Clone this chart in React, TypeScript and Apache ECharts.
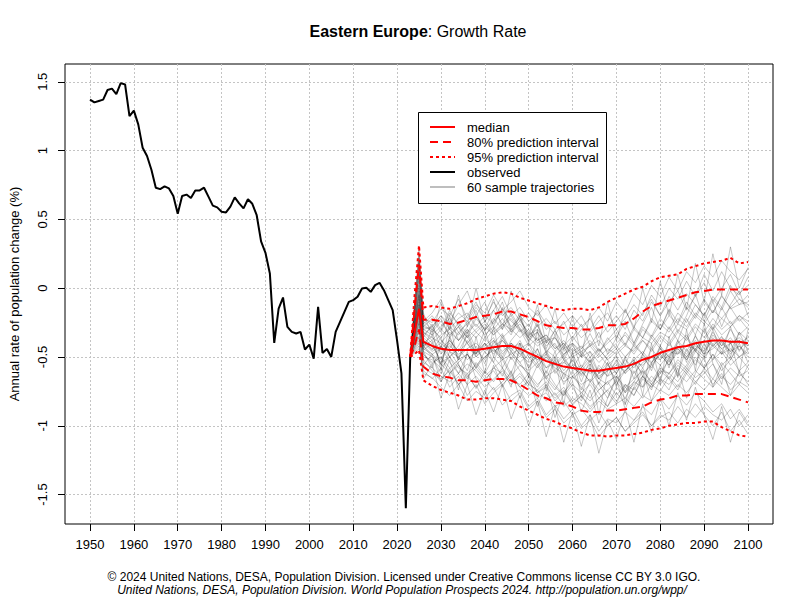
import React, { useEffect, useRef } from 'react';
import * as echarts from 'echarts';

// Observed annual growth rate (%), 1950..2023
const OBS_START_YEAR = 1950;
const OBSERVED = [
  1.37, 1.35, 1.36, 1.37, 1.44, 1.45, 1.41, 1.49, 1.48, 1.25,
  1.29, 1.19, 1.02, 0.96, 0.86, 0.73, 0.72, 0.74, 0.725, 0.67,
  0.54, 0.67, 0.68, 0.655, 0.71, 0.71, 0.73, 0.665, 0.6, 0.587,
  0.555, 0.55, 0.592, 0.66, 0.616, 0.58, 0.646, 0.613, 0.53, 0.34,
  0.257, 0.107, -0.398, -0.148, -0.068, -0.282, -0.318, -0.33, -0.318, -0.446,
  -0.41, -0.512, -0.136, -0.471, -0.442, -0.5, -0.318, -0.245, -0.172, -0.1,
  -0.087, -0.063, -0.002, 0.003, -0.027, 0.022, 0.039, -0.015, -0.087, -0.16,
  -0.38, -0.62, -1.6, -0.5,
];

const PROJ_YEARS = [
  2023, 2024, 2025, 2026, 2028, 2030, 2032, 2034, 2036, 2038, 2040,
  2042, 2044, 2046, 2048, 2050, 2052, 2054, 2056, 2058, 2060,
  2062, 2064, 2066, 2068, 2070, 2072, 2074, 2076, 2078, 2080,
  2082, 2084, 2086, 2088, 2090, 2092, 2094, 2096, 2098, 2100,
];
const MEDIAN = [
  -0.5, -0.32, -0.15, -0.39, -0.42, -0.44, -0.45, -0.45, -0.45, -0.45, -0.44,
  -0.43, -0.42, -0.42, -0.44, -0.47, -0.5, -0.53, -0.55, -0.57, -0.58,
  -0.59, -0.6, -0.6, -0.59, -0.58, -0.57, -0.55, -0.52, -0.5, -0.47,
  -0.45, -0.43, -0.42, -0.4, -0.39, -0.38, -0.38, -0.39, -0.39, -0.4,
];
const PI80_UPPER = [
  -0.5, -0.15, 0.17, -0.23, -0.23, -0.24, -0.26, -0.25, -0.23, -0.21, -0.2,
  -0.19, -0.17, -0.17, -0.19, -0.21, -0.24, -0.27, -0.28, -0.29, -0.29,
  -0.3, -0.3, -0.29, -0.27, -0.27, -0.26, -0.22, -0.17, -0.13, -0.11,
  -0.09, -0.07, -0.05, -0.03, -0.02, -0.01, -0.01, -0.01, -0.01, -0.01,
];
const PI80_LOWER = [
  -0.5, -0.42, -0.3, -0.57, -0.62, -0.64, -0.65, -0.67, -0.67, -0.68, -0.67,
  -0.66, -0.66, -0.67, -0.7, -0.74, -0.78, -0.8, -0.83, -0.84, -0.86,
  -0.89, -0.9, -0.9, -0.89, -0.89, -0.88, -0.87, -0.86, -0.83, -0.81,
  -0.8, -0.78, -0.78, -0.77, -0.77, -0.77, -0.77, -0.79, -0.81, -0.83,
];
const PI95_UPPER = [
  -0.5, -0.05, 0.31, -0.14, -0.13, -0.14, -0.15, -0.13, -0.11, -0.08, -0.06,
  -0.04, -0.03, -0.04, -0.07, -0.09, -0.11, -0.13, -0.15, -0.16, -0.15,
  -0.15, -0.16, -0.14, -0.1, -0.07, -0.04, -0.01, 0.01, 0.05, 0.08,
  0.09, 0.1, 0.14, 0.16, 0.18, 0.19, 0.2, 0.22, 0.18, 0.19,
];
const PI95_LOWER = [
  -0.5, -0.48, -0.45, -0.67, -0.71, -0.74, -0.76, -0.78, -0.81, -0.81, -0.8,
  -0.8, -0.81, -0.82, -0.86, -0.89, -0.92, -0.95, -0.97, -1.0, -1.02,
  -1.05, -1.07, -1.07, -1.08, -1.07, -1.07, -1.06, -1.05, -1.03, -1.02,
  -1.0, -0.99, -0.98, -0.98, -0.97, -0.97, -1.01, -1.04, -1.07, -1.08,
];

// Sample trajectories (values in hundredths of a percent)
const TRAJ_YEARS = [
  2023, 2025, 2026, 2028, 2030, 2032, 2034, 2036, 2038, 2040,
  2042, 2044, 2046, 2048, 2050, 2052, 2054, 2056, 2058, 2060,
  2062, 2064, 2066, 2068, 2070, 2072, 2074, 2076, 2078, 2080,
  2082, 2084, 2086, 2088, 2090, 2092, 2094, 2096, 2098, 2100,
];
const TRAJECTORIES = [
  [-50, 5, -28, -30, -22, -35, -25, -33, -20, -31, -22, -30, -18, -29, -35, -27, -40, -31, -42, -35, -44, -33, -46, -38, -30, -41, -28, -36, -22, -30, -15, -25, -10, -20, -8, -18, -5, -15, -12, -10],
  [-50, -30, -52, -60, -68, -58, -70, -62, -73, -60, -68, -58, -66, -70, -62, -76, -70, -82, -75, -85, -78, -88, -80, -86, -76, -84, -72, -80, -70, -75, -64, -72, -60, -68, -62, -55, -66, -58, -64, -60],
  [-50, -12, -40, -35, -48, -40, -52, -38, -47, -42, -36, -48, -40, -45, -52, -44, -58, -50, -60, -52, -63, -55, -66, -56, -62, -52, -58, -48, -55, -42, -50, -38, -46, -35, -44, -32, -42, -36, -45, -38],
  [-50, -25, -48, -55, -50, -62, -54, -48, -58, -50, -45, -52, -40, -48, -44, -52, -46, -55, -48, -42, -50, -40, -48, -36, -44, -32, -40, -28, -35, -22, -30, -18, -25, -12, -20, -8, -16, -2, -12, -5],
  [-50, 15, -30, -28, -20, -30, -22, -18, -28, -20, -26, -15, -24, -30, -38, -32, -45, -50, -42, -55, -60, -52, -66, -70, -62, -75, -68, -72, -64, -70, -62, -68, -58, -65, -60, -70, -62, -74, -68, -72],
  [-50, -40, -62, -65, -72, -78, -70, -82, -75, -80, -72, -85, -78, -74, -86, -80, -92, -85, -95, -88, -100, -92, -104, -95, -98, -90, -96, -86, -92, -80, -88, -78, -85, -76, -82, -90, -84, -95, -88, -98],
  [-50, -5, -38, -45, -36, -50, -42, -30, -44, -52, -40, -33, -46, -38, -50, -58, -48, -62, -54, -48, -60, -68, -56, -64, -52, -62, -50, -58, -44, -52, -40, -48, -36, -46, -30, -42, -35, -48, -38, -44],
  [-50, 20, -22, -25, -15, -20, -8, -22, -12, -18, -5, -16, -10, -2, -14, -20, -12, -26, -18, -28, -20, -32, -24, -18, -30, -22, -12, -20, -5, -14, 0, -8, 5, -6, 10, -2, 12, 0, -5, 8],
  [-50, -35, -50, -52, -58, -50, -62, -55, -60, -68, -58, -52, -64, -56, -62, -70, -64, -72, -78, -70, -76, -82, -74, -68, -78, -70, -74, -64, -70, -60, -66, -56, -62, -52, -58, -48, -56, -50, -60, -54],
  [-50, -8, -32, -38, -30, -36, -28, -40, -32, -26, -34, -28, -22, -32, -26, -38, -34, -44, -38, -46, -42, -50, -44, -52, -46, -40, -48, -38, -44, -34, -40, -30, -36, -26, -32, -22, -30, -24, -34, -28],
  [-50, -18, -45, -40, -55, -35, -50, -60, -42, -55, -38, -50, -62, -45, -58, -48, -66, -52, -70, -60, -74, -58, -70, -80, -64, -76, -60, -72, -55, -66, -50, -62, -44, -56, -40, -52, -38, -50, -32, -46],
  [-50, -30, -46, -50, -55, -62, -56, -64, -58, -66, -60, -70, -64, -72, -68, -76, -72, -80, -74, -84, -78, -86, -80, -74, -82, -72, -78, -66, -72, -60, -62, -52, -58, -46, -52, -40, -48, -44, -50, -46],
  [-50, 8, -30, -34, -28, -22, -32, -26, -20, -30, -24, -18, -28, -22, -34, -30, -38, -36, -44, -40, -46, -42, -50, -44, -48, -42, -46, -36, -40, -32, -36, -26, -30, -20, -26, -16, -22, -14, -24, -18],
  [-50, -20, -40, -44, -40, -46, -50, -44, -48, -40, -46, -42, -48, -44, -40, -48, -52, -56, -50, -60, -56, -62, -58, -64, -60, -56, -62, -54, -50, -56, -48, -44, -50, -42, -46, -38, -44, -40, -36, -42],
  [-50, -42, -58, -62, -66, -60, -70, -64, -72, -66, -74, -68, -62, -72, -78, -74, -82, -76, -86, -80, -84, -90, -82, -88, -84, -80, -86, -78, -82, -74, -78, -70, -76, -68, -74, -66, -72, -78, -70, -76],
  [-50, 28, -20, -28, -20, -26, -18, -24, -14, -22, -10, -20, -14, -24, -18, -28, -22, -30, -26, -20, -28, -22, -14, -24, -10, -18, -4, -12, 2, -6, 8, -2, 12, 4, 16, 8, 20, 12, 6, 14],
  [-50, -10, -36, -42, -52, -38, -46, -34, -50, -40, -54, -36, -44, -50, -40, -54, -46, -60, -52, -64, -58, -50, -62, -54, -70, -60, -52, -64, -54, -48, -56, -44, -52, -40, -48, -36, -44, -52, -42, -50],
  [-50, -22, -44, -48, -54, -50, -58, -62, -56, -64, -58, -62, -70, -64, -72, -80, -76, -86, -82, -92, -88, -96, -90, -100, -94, -104, -98, -92, -100, -94, -90, -98, -88, -94, -86, -92, -96, -88, -100, -92],
  [-50, 0, -26, -32, -24, -34, -28, -36, -30, -24, -32, -26, -20, -30, -36, -42, -38, -46, -40, -50, -46, -54, -48, -56, -50, -58, -52, -46, -54, -44, -50, -42, -48, -38, -46, -34, -42, -30, -40, -36],
  [-50, -15, -40, -46, -42, -50, -44, -52, -46, -40, -48, -38, -46, -54, -48, -56, -50, -58, -62, -56, -64, -58, -66, -60, -54, -62, -56, -50, -58, -46, -54, -42, -50, -40, -48, -44, -38, -46, -42, -48],
  [-50, -28, -48, -54, -50, -58, -52, -48, -56, -50, -44, -52, -48, -56, -60, -54, -64, -60, -68, -64, -70, -66, -74, -68, -64, -72, -66, -60, -68, -58, -62, -54, -60, -50, -58, -52, -46, -56, -50, -58],
  [-50, 12, -24, -30, -36, -28, -34, -24, -32, -38, -30, -22, -32, -26, -36, -32, -42, -36, -46, -40, -48, -42, -38, -46, -40, -34, -42, -30, -36, -26, -32, -22, -28, -18, -24, -30, -22, -28, -20, -26],
  [-50, -20, -42, -38, -56, -36, -52, -32, -48, -30, -50, -34, -52, -40, -58, -44, -62, -46, -66, -50, -68, -52, -70, -54, -72, -50, -66, -48, -60, -42, -58, -38, -54, -34, -50, -30, -48, -28, -46, -34],
  [-50, -36, -54, -58, -64, -68, -62, -70, -64, -72, -66, -60, -68, -62, -70, -74, -68, -78, -72, -82, -76, -70, -80, -74, -68, -76, -70, -64, -72, -66, -70, -62, -68, -60, -66, -72, -64, -70, -62, -68],
  [-50, -6, -34, -40, -34, -30, -38, -32, -26, -34, -28, -36, -30, -24, -32, -38, -34, -42, -48, -44, -50, -46, -54, -48, -42, -50, -44, -38, -46, -36, -42, -32, -38, -28, -36, -26, -34, -28, -22, -30],
  [-50, -14, -38, -42, -46, -42, -48, -44, -40, -46, -42, -38, -44, -40, -48, -52, -48, -56, -54, -58, -62, -58, -64, -60, -56, -60, -54, -56, -50, -52, -46, -48, -42, -44, -38, -42, -36, -40, -38, -42],
  [-50, 22, -26, -20, -30, -16, -28, -20, -10, -24, -16, -6, -20, -14, -24, -18, -30, -24, -34, -28, -36, -30, -20, -32, -24, -16, -28, -18, -8, -20, -10, -2, -16, -6, 4, -10, 0, 10, -4, 2],
  [-50, -44, -60, -66, -58, -72, -64, -78, -70, -84, -76, -70, -82, -76, -88, -82, -94, -88, -98, -92, -102, -96, -108, -100, -94, -104, -96, -90, -100, -92, -96, -86, -94, -84, -92, -100, -90, -104, -96, -106],
  [-50, -24, -42, -48, -44, -38, -46, -40, -50, -44, -38, -46, -40, -48, -54, -50, -58, -54, -62, -66, -60, -68, -62, -58, -66, -60, -54, -62, -56, -48, -56, -46, -52, -44, -50, -42, -48, -40, -50, -44],
  [-50, -2, -32, -36, -40, -32, -38, -30, -36, -28, -34, -26, -30, -36, -30, -40, -36, -44, -40, -48, -44, -38, -46, -40, -34, -42, -30, -36, -24, -30, -20, -26, -14, -22, -10, -18, -6, -14, -8, -12],
  [-50, 25, -18, -35, -10, -30, -5, -28, 0, -25, -8, -30, -2, -22, -35, -12, -40, -15, -45, -20, -50, -18, -42, -10, -38, -15, -30, 0, -25, 5, -20, 10, -15, 18, -10, 25, -5, 30, 0, 15],
  [-50, -38, -66, -55, -80, -62, -88, -70, -92, -74, -90, -70, -95, -78, -100, -82, -108, -86, -112, -90, -115, -92, -120, -96, -110, -88, -112, -84, -105, -80, -100, -76, -96, -72, -92, -110, -86, -112, -90, -100],
  [-50, -16, -44, -30, -60, -25, -55, -70, -35, -62, -28, -58, -72, -40, -65, -30, -75, -50, -85, -45, -80, -55, -92, -60, -48, -85, -52, -78, -40, -70, -35, -65, -30, -60, -25, -55, -70, -38, -62, -30],
  [-50, 18, -24, -18, -8, -25, -12, -2, -20, -10, -28, -14, -32, -20, -40, -26, -48, -34, -52, -40, -58, -46, -62, -50, -44, -56, -40, -48, -34, -42, -28, -38, -22, -34, -18, -30, -14, -26, -20, -24],
  [-50, -32, -56, -48, -68, -52, -74, -46, -66, -78, -56, -72, -60, -80, -64, -86, -70, -94, -76, -68, -90, -74, -98, -80, -66, -88, -72, -60, -82, -66, -74, -58, -80, -62, -50, -72, -56, -78, -60, -70],
  [-50, -4, -36, -26, -44, -20, -38, -28, -16, -36, -24, -10, -30, -18, -38, -24, -44, -30, -50, -36, -26, -42, -32, -48, -36, -24, -40, -26, -14, -30, -16, -32, -20, -4, -24, -10, -28, -12, -2, -20],
  [-50, -26, -46, -58, -42, -54, -62, -48, -58, -46, -54, -64, -50, -60, -70, -56, -66, -74, -62, -72, -82, -68, -76, -86, -72, -80, -68, -58, -70, -62, -52, -64, -56, -44, -58, -48, -60, -52, -40, -54],
  [-50, 2, -34, -28, -38, -44, -32, -40, -48, -36, -44, -50, -38, -30, -42, -36, -46, -40, -52, -58, -48, -54, -44, -52, -62, -50, -42, -48, -36, -44, -52, -40, -34, -46, -38, -28, -40, -46, -32, -38],
  [-50, -12, -42, -50, -62, -46, -56, -66, -54, -62, -50, -58, -46, -54, -64, -72, -60, -70, -78, -64, -72, -80, -68, -76, -84, -70, -78, -64, -74, -56, -66, -74, -62, -70, -58, -66, -54, -62, -70, -56],
  [-50, 10, -28, -22, -32, -18, -26, -36, -22, -30, -16, -26, -34, -20, -28, -16, -26, -34, -24, -38, -30, -22, -36, -28, -20, -30, -16, -24, -10, -20, -6, -16, -4, -12, -20, -6, -14, 2, -8, -14],
];

const X_TICKS = [1950, 1960, 1970, 1980, 1990, 2000, 2010, 2020, 2030, 2040, 2050, 2060, 2070, 2080, 2090, 2100];
const Y_TICKS = [-1.5, -1, -0.5, 0, 0.5, 1, 1.5];

const FONT = '"Liberation Sans", Arial, Helvetica, sans-serif';
const RED = '#FF0000';

function pairs(xs: number[], ys: number[], scale = 1) {
  const n = Math.min(xs.length, ys.length);
  const out: number[][] = [];
  for (let i = 0; i < n; i++) out.push([xs[i], ys[i] / scale]);
  return out;
}

function buildOption() {
  const obsData = OBSERVED.map((v, i) => [OBS_START_YEAR + i, v]);
  const trajSeries = TRAJECTORIES.map((t, i) => ({
    type: 'line',
    name: 'trajectory ' + (i + 1),
    data: pairs(TRAJ_YEARS, t, 100),
    showSymbol: false,
    symbol: 'none',
    silent: true,
    z: 2,
    lineStyle: { color: 'rgba(0,0,0,0.22)', width: 1 },
  }));
  const band = (name: string, vals: number[], dash: any) => ({
    type: 'line',
    name,
    data: pairs(PROJ_YEARS, vals),
    showSymbol: false,
    symbol: 'none',
    silent: true,
    z: 3,
    lineStyle: { color: RED, width: 2, type: dash, cap: 'butt' },
  });

  const legendRows = [
    { label: 'median', color: RED, dash: 'solid' as any },
    { label: '80% prediction interval', color: RED, dash: [8, 5] },
    { label: '95% prediction interval', color: RED, dash: [3, 3] },
    { label: 'observed', color: '#000', dash: 'solid' as any },
    { label: '60 sample trajectories', color: '#BEBEBE', dash: 'solid' as any },
  ];
  const legendEls: any[] = [
    {
      type: 'rect',
      z: 100,
      shape: { x: 418.5, y: 112.5, width: 188, height: 91 },
      style: { fill: '#fff', stroke: '#000', lineWidth: 1 },
    },
  ];
  legendRows.forEach((r, i) => {
    const y = 127 + i * 15;
    legendEls.push({
      type: 'line',
      z: 101,
      shape: { x1: 430, y1: y, x2: 455, y2: y },
      style: { stroke: r.color, lineWidth: 2, lineDash: r.dash === 'solid' ? null : r.dash },
    });
    legendEls.push({
      type: 'text',
      z: 101,
      x: 467,
      y: y,
      style: { text: r.label, fontSize: 13, fontFamily: FONT, fill: '#000', verticalAlign: 'middle', align: 'left' },
    });
  });

  return {
    animation: false,
    backgroundColor: '#fff',
    grid: {
      left: 63,
      right: 35,
      top: 64,
      bottom: 82,
      show: true,
      borderColor: '#000',
      borderWidth: 1,
      backgroundColor: 'transparent',
    },
    xAxis: {
      type: 'value',
      min: 1944.3,
      max: 2105.7,
      axisLine: { show: false, onZero: false },
      axisTick: { show: true, inside: false, length: 7, customValues: X_TICKS, lineStyle: { color: '#000' } },
      axisLabel: {
        customValues: X_TICKS,
        formatter: (v: number) => String(v),
        margin: 14,
        fontSize: 13,
        fontFamily: FONT,
        color: '#000',
      },
      splitLine: { show: true, lineStyle: { color: '#C4C4C4', type: [2, 2], width: 1 } },
    },
    yAxis: {
      type: 'value',
      min: -1.714,
      max: 1.629,
      axisLine: { show: false, onZero: false },
      axisTick: { show: true, inside: false, length: 7, customValues: Y_TICKS, lineStyle: { color: '#000' } },
      axisLabel: {
        customValues: Y_TICKS,
        formatter: (v: number) => String(v),
        rotate: 90,
        margin: 16,
        fontSize: 13,
        fontFamily: FONT,
        color: '#000',
      },
      splitLine: { show: true, lineStyle: { color: '#C4C4C4', type: [2, 2], width: 1 } },
      name: 'Annual rate of population change (%)',
      nameLocation: 'middle',
      nameGap: 44,
      nameTextStyle: { fontSize: 13, fontFamily: FONT, color: '#000' },
    },
    series: [
      ...trajSeries,
      band('95% upper', PI95_UPPER, [3, 3]),
      band('95% lower', PI95_LOWER, [3, 3]),
      band('80% upper', PI80_UPPER, [8, 5]),
      band('80% lower', PI80_LOWER, [8, 5]),
      {
        type: 'line',
        name: 'median',
        data: pairs(PROJ_YEARS, MEDIAN),
        showSymbol: false,
        symbol: 'none',
        silent: true,
        z: 4,
        lineStyle: { color: RED, width: 2 },
      },
      {
        type: 'line',
        name: 'observed',
        data: obsData,
        showSymbol: false,
        symbol: 'none',
        silent: true,
        z: 5,
        lineStyle: { color: '#000', width: 2 },
      },
    ],
    graphic: [
      {
        type: 'text',
        z: 100,
        x: 418,
        y: 31,
        style: {
          text: '{b|Eastern Europe}{n|: Growth Rate}',
          align: 'center',
          verticalAlign: 'middle',
          fill: '#000',
          rich: {
            b: { fontSize: 16, fontWeight: 'bold', fontFamily: FONT, fill: '#000' },
            n: { fontSize: 16, fontFamily: FONT, fill: '#000' },
          },
        },
      },
      {
        type: 'text',
        z: 100,
        x: 404,
        y: 577,
        style: {
          text: '© 2024 United Nations, DESA, Population Division. Licensed under Creative Commons license CC BY 3.0 IGO.',
          fontSize: 12,
          fontFamily: FONT,
          fill: '#000',
          align: 'center',
          verticalAlign: 'middle',
        },
      },
      {
        type: 'text',
        z: 100,
        x: 402,
        y: 590,
        style: {
          text: 'United Nations, DESA, Population Division. World Population Prospects 2024. http://population.un.org/wpp/',
          fontSize: 12,
          fontStyle: 'italic',
          fontFamily: FONT,
          fill: '#000',
          align: 'center',
          verticalAlign: 'middle',
        },
      },
      ...legendEls,
    ],
  };
}

export default function App() {
  const ref = useRef<HTMLDivElement>(null);
  useEffect(() => {
    if (!ref.current) return;
    const chart = echarts.init(ref.current, null, { renderer: 'svg' });
    chart.setOption(buildOption() as any);
    return () => chart.dispose();
  }, []);
  return (
    <div
      ref={ref}
      style={{ position: 'absolute', left: 0, top: 0, width: 808, height: 606, background: '#fff' }}
    />
  );
}
